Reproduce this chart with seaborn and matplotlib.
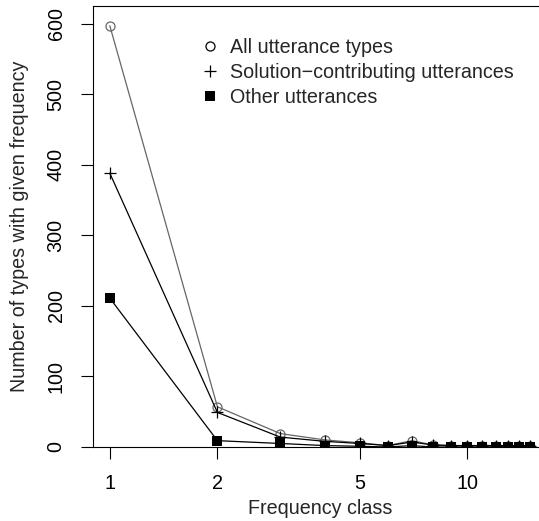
import numpy as np
import pandas as pd
import matplotlib
matplotlib.use("Agg")
import matplotlib.pyplot as plt
import seaborn as sns
from matplotlib.lines import Line2D
from matplotlib.ticker import NullLocator, FixedLocator

sns.set_style("white")
plt.rcParams["font.family"] = ["Liberation Sans", "DejaVu Sans"]
FS = 14.2
plt.rcParams["font.size"] = FS

freq = list(range(1, 16))
all_types = [597, 57, 19, 10, 6, 2, 9, 3, 2, 2, 2, 2, 2, 2, 2]
solution = [388, 49, 14, 8, 5, 2, 7, 3, 2, 2, 2, 2, 2, 2, 2]
other = [211, 9, 5, 2, 1, 0, 2, 0, 0, 0, 0, 0, 0, 0, 0]

series_labels = ["All utterance types", "Solution\u2212contributing utterances", "Other utterances"]
x_ticks = [1, 2, 5, 10]
y_ticks = [0, 100, 200, 300, 400, 500, 600]

df = pd.DataFrame({"freq": freq, "all": all_types, "sol": solution, "other": other})

W, H = 539, 521
fig = plt.figure(figsize=(W / 100, H / 100), dpi=100)
ax = fig.add_axes([93 / W, 74 / H, 454 / W, 441 / H])

gray = "#666666"
sns.lineplot(data=df, x="freq", y="all", ax=ax, color=gray, lw=0.9,
             marker="o", ms=6.5, markerfacecolor="none", markeredgecolor=gray, mew=0.9)
sns.lineplot(data=df, x="freq", y="sol", ax=ax, color="black", lw=0.9,
             marker="+", ms=8.5, markeredgecolor="black", mew=0.9)
sns.lineplot(data=df, x="freq", y="other", ax=ax, color="black", lw=0.9,
             marker="s", ms=7, markerfacecolor="black", markeredgecolor="black", mew=0)

ax.set_xscale("log")
lo = np.log10(min(freq)); hi = np.log10(max(freq))
pad = 0.04 * (hi - lo)
ax.set_xlim(10 ** (lo - pad), 10 ** (hi + pad))
ax.set_ylim(0, 625)

ax.xaxis.set_major_locator(FixedLocator(x_ticks))
ax.xaxis.set_minor_locator(NullLocator())
ax.set_xticklabels([str(t) for t in x_ticks])
ax.set_yticks(y_ticks)
ax.set_yticklabels([str(t) for t in y_ticks], rotation=90, va="center")

ax.tick_params(axis="both", direction="out", length=8.5, width=0.8, colors="black",
               labelsize=FS, left=True, bottom=True)
ax.tick_params(axis="x", pad=11.1)
ax.tick_params(axis="y", pad=11.2)
for s in ["left", "top", "bottom", "right"]:
    ax.spines[s].set_visible(True)
    ax.spines[s].set_color("black")
    ax.spines[s].set_linewidth(0.8)

ax.set_xlabel("Frequency class", fontsize=FS, labelpad=4.5)
ax.set_ylabel("Number of types with given frequency", fontsize=FS, labelpad=13)

handles = [
    Line2D([], [], ls="none", marker="o", ms=6.5, mfc="none", mec="black", mew=0.9),
    Line2D([], [], ls="none", marker="+", ms=8.5, mec="black", mew=0.9),
    Line2D([], [], ls="none", marker="s", ms=7, mfc="black", mec="black", mew=0),
]
ax.legend(handles, series_labels, loc="upper left",
          bbox_to_anchor=(200.1 / W, 1 - 37.8 / H), bbox_transform=fig.transFigure,
          frameon=False, handlelength=1.0, handletextpad=0.54, borderpad=0,
          borderaxespad=0, labelspacing=0.30, fontsize=FS)

fig.savefig("out.png", dpi=100)
